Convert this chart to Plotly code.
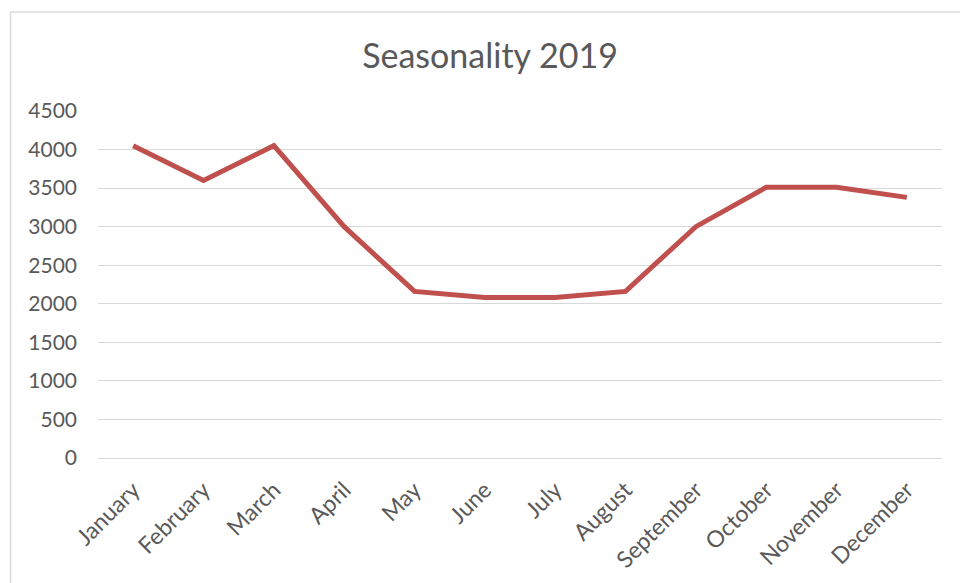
import plotly.graph_objects as go

months = ["January", "February", "March", "April", "May", "June", "July",
          "August", "September", "October", "November", "December"]
values = [4050, 3600, 4050, 3000, 2160, 2080, 2080, 2160, 3000, 3510, 3510, 3380]
y_ticks = [0, 500, 1000, 1500, 2000, 2500, 3000, 3500, 4000, 4500]

W, H = 960, 583
L, R, T, B = 98, 18, 111, 125

fig = go.Figure()
fig.add_trace(go.Scatter(
    x=months, y=values, mode="lines",
    line=dict(color="#C0504D", width=5),
    hoverinfo="x+y",
))

pw = W - L - R
ph = H - T - B
bx = (10.5 - L) / pw           # left border (paper units)
by = 1 + (T - 12) / ph         # top border (paper units)
fig.update_layout(
    width=W, height=H,
    margin=dict(l=L, r=R, t=T, b=B, pad=0),
    paper_bgcolor="white", plot_bgcolor="white",
    showlegend=False,
    font=dict(family="Lato", color="#595959", size=21),
    title=dict(text="Seasonality 2019", x=(490 - L) / pw, xanchor="center",
               xref="paper", y=1 - 56 / H, yanchor="middle",
               font=dict(family="Lato", size=34, color="#595959")),
    xaxis=dict(range=[-0.5, 11.5], showgrid=False, showline=False, ticks="",
               tickangle=-45, ticklabelstandoff=13, automargin=False,
               tickfont=dict(size=23, color="#595959")),
    yaxis=dict(range=[0, 4500], tickvals=y_ticks, showgrid=True,
               gridcolor="#D9D9D9", gridwidth=1.3, zeroline=True,
               zerolinecolor="#D9D9D9", zerolinewidth=1.3, showline=False,
               ticks="", ticklabelstandoff=20, automargin=False,
               tickfont=dict(size=21, color="#595959")),
    shapes=[
        dict(type="line", xref="paper", yref="paper",
             x0=bx, x1=bx, y0=by, y1=-1.0,
             line=dict(color="#D9D9D9", width=1.5), layer="below"),
        dict(type="line", xref="paper", yref="paper",
             x0=bx, x1=1.2, y0=by, y1=by,
             line=dict(color="#D9D9D9", width=1.5), layer="below"),
    ],
)

fig.write_html(
    "out.html",
    config={"displayModeBar": False},
    post_script="document.body.style.margin='0';"
                "document.body.style.overflow='hidden';",
)
